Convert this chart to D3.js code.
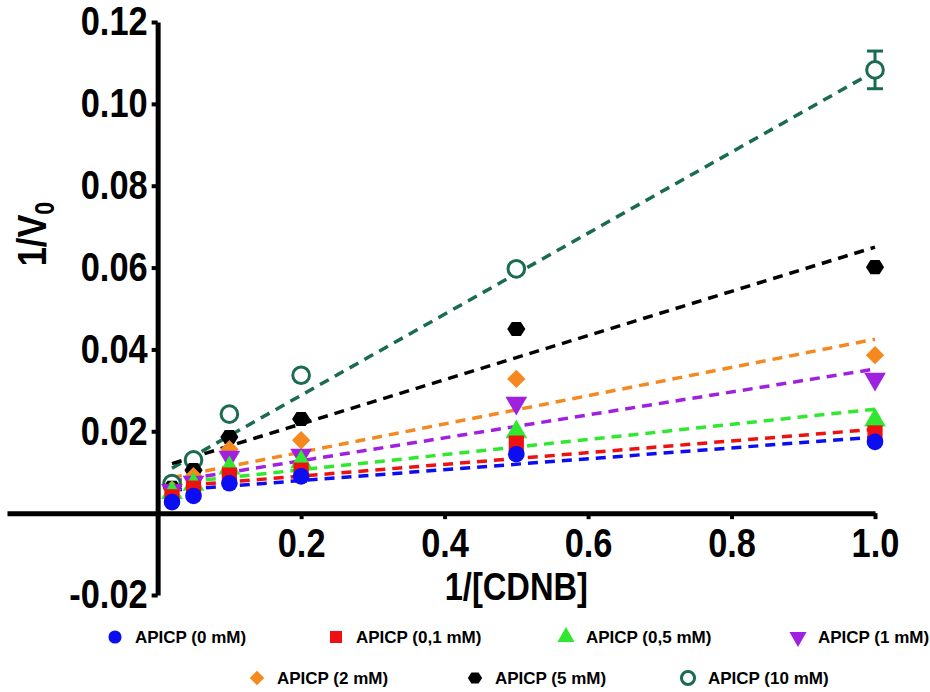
<!DOCTYPE html>
<html>
<head>
<meta charset="utf-8">
<script src="https://cdn.jsdelivr.net/npm/d3@7"></script>
<style>
  body { margin: 0; background: #fff; }
  svg text { font-family: "Liberation Sans", Arial, sans-serif; font-weight: bold; fill: #000; }
</style>
</head>
<body>
<svg id="chart" width="930" height="692"></svg>
<script>
// 1/[CDNB] values (x) shared by all series
const xValues = [0.02, 0.05, 0.1, 0.2, 0.5, 1.0];

// 1/V0, one array per APICP concentration
const apicp0   = [0.0027, 0.0042, 0.0073, 0.0090, 0.0144, 0.0174];
const apicp01  = [0.0040, 0.0061, 0.0093, 0.0105, 0.0171, 0.0196];
const apicp05  = [0.0050, 0.0070, 0.0110, 0.0125, 0.0198, 0.0227];
const apicp1   = [0.0056, 0.0076, 0.0137, 0.0142, 0.0269, 0.0328];
const apicp2   = [0.0058, 0.0090, 0.0156, 0.0178, 0.0328, 0.0386];
const apicp5   = [0.0062, 0.0105, 0.0186, 0.0230, 0.0450, 0.0601];
const apicp10  = [0.0072, 0.0130, 0.0242, 0.0337, 0.0597, 0.1083];
const apicp10Err = [0, 0, 0, 0, 0, 0.0046];

// fitted lines (slope, intercept) as drawn in the picture
const fitSlopes     = [0.0133, 0.0143, 0.0185, 0.028, 0.0345, 0.054, 0.099];
const fitIntercepts = [0.0053, 0.0062, 0.0069, 0.0072, 0.008, 0.011, 0.009];

const seriesNames = ["APICP (0 mM)", "APICP (0,1 mM)", "APICP (0,5 mM)", "APICP (1 mM)",
                     "APICP (2 mM)", "APICP (5 mM)", "APICP (10 mM)"];
const seriesColors = ["#0d0df2", "#ee1111", "#2fe82f", "#a020e0", "#f5891f", "#000000", "#1a6b4f"];
const seriesMarkers = ["circle", "square", "triangleUp", "triangleDown", "diamond", "hexagon", "ring"];
const seriesValues = [apicp0, apicp01, apicp05, apicp1, apicp2, apicp5, apicp10];

const yTicks = [-0.02, 0.02, 0.04, 0.06, 0.08, 0.10, 0.12];
const xTicks = [0.2, 0.4, 0.6, 0.8, 1.0];

const svg = d3.select("#chart");

const x = d3.scaleLinear().domain([-0.21, 1.0]).range([7, 875]);
const y = d3.scaleLinear().domain([-0.02, 0.12]).range([595, 22]);

// marker shapes
function markerPath(kind, s) {
  if (kind === "circle" || kind === "ring") return d3.symbol(d3.symbolCircle, s * s * 0.8)();
  if (kind === "square") return d3.symbol(d3.symbolSquare, s * s * 0.85)();
  if (kind === "triangleUp" || kind === "triangleDown") return d3.symbol(d3.symbolTriangle, s * s * 0.75)();
  if (kind === "diamond") return d3.symbol(d3.symbolSquare, s * s * 0.62)();
  if (kind === "hexagon") {
    const r = s * 0.55;
    const pts = d3.range(6).map(i => [r * Math.cos(i * Math.PI / 3), r * 0.9 * Math.sin(i * Math.PI / 3)]);
    return "M" + pts.join("L") + "Z";
  }
}
function drawMarker(g, kind, color, cx, cy, s) {
  const p = g.append("path")
    .attr("d", markerPath(kind, s))
    .attr("transform", `translate(${cx},${cy})` +
      (kind === "triangleDown" ? " rotate(180)" : kind === "diamond" ? " rotate(45)" : ""));
  if (kind === "ring") {
    p.attr("fill", "#fff").attr("stroke", color).attr("stroke-width", 3);
  } else {
    p.attr("fill", color);
  }
}

// axes
const fmtY = d => d3.format(".2f")(d).replace("\u2212", "-");
const yAxis = d3.axisLeft(y).tickValues(yTicks).tickFormat(fmtY).tickSize(6).tickSizeOuter(0);
const xAxis = d3.axisBottom(x).tickValues(xTicks).tickFormat(d3.format(".1f")).tickSize(6).tickSizeOuter(0);

const gx = svg.append("g").attr("transform", `translate(0,${y(0)})`).call(xAxis);
const gy = svg.append("g").attr("transform", `translate(${x(0)},0)`).call(yAxis);

[gx, gy].forEach(g => {
  g.select(".domain").attr("stroke", "#000").attr("stroke-width", 5);
  g.selectAll(".tick line").attr("stroke", "#000").attr("stroke-width", 4);
  g.selectAll(".tick text").attr("font-size", 40).attr("fill", "#000")
    .style("font-family", '"Liberation Sans", Arial, sans-serif').style("font-weight", "bold");
});
gy.selectAll(".tick text").attr("x", 0).attr("dy", "0.32em")
  .attr("transform", "translate(-10,0) scale(0.86,1)");
// keep x labels centered on their tick after the horizontal squeeze
gx.selectAll(".tick text").attr("x", 0).attr("y", 44).attr("dy", 0)
  .attr("transform", "scale(0.86,1)");

// axis titles
svg.append("text")
  .attr("transform", `translate(${x(0.5)},600) scale(0.86,1)`)
  .attr("text-anchor", "middle")
  .attr("font-size", 38)
  .text("1/[CDNB]");

const yTitle = svg.append("text")
  .attr("transform", "translate(46,234) rotate(-90) scale(0.86,1)")
  .attr("text-anchor", "middle")
  .attr("font-size", 40);
yTitle.append("tspan").text("1/V");
yTitle.append("tspan").attr("font-size", 27).attr("dy", 8).text("0");

// fitted dashed lines, drawn from the highest concentration down
const plot = svg.append("g");
const order = d3.range(seriesValues.length).reverse();
order.forEach(i => {
  const x0 = d3.min(xValues), x1 = d3.max(xValues);
  plot.append("line")
    .attr("x1", x(x0)).attr("y1", y(fitIntercepts[i] + fitSlopes[i] * x0))
    .attr("x2", x(x1)).attr("y2", y(fitIntercepts[i] + fitSlopes[i] * x1))
    .attr("stroke", seriesColors[i])
    .attr("stroke-width", 3.5)
    .attr("stroke-dasharray", "10,7");
});

// error bars (only visible at the 10 mM, 1.0 point)
xValues.forEach((xv, j) => {
  const e = apicp10Err[j];
  if (!e) return;
  const cx = x(xv);
  const top = y(apicp10[j] + e), bot = y(apicp10[j] - e);
  plot.append("line").attr("x1", cx).attr("x2", cx).attr("y1", top).attr("y2", bot)
    .attr("stroke", seriesColors[6]).attr("stroke-width", 3);
  [top, bot].forEach(v => plot.append("line")
    .attr("x1", cx - 8).attr("x2", cx + 8).attr("y1", v).attr("y2", v)
    .attr("stroke", seriesColors[6]).attr("stroke-width", 3));
});

// points
order.forEach(i => {
  seriesValues[i].forEach((v, j) => {
    drawMarker(plot, seriesMarkers[i], seriesColors[i], x(xValues[j]), y(v), 16.5);
  });
});

// legend
const legendRows = [[0, 1, 2, 3], [4, 5, 6]];
const legendX = [[115, 336, 566, 798], [257, 475, 688]];
const legendY = [637, 678];
const lg = svg.append("g");
legendRows.forEach((row, r) => {
  row.forEach((i, k) => {
    const lx = legendX[r][k];
    drawMarker(lg, seriesMarkers[i], seriesColors[i], lx, legendY[r], 13);
    lg.append("text")
      .attr("x", lx + 20).attr("y", legendY[r] + 6)
      .attr("font-size", 17)
      .text(seriesNames[i]);
  });
});
</script>
</body>
</html>
